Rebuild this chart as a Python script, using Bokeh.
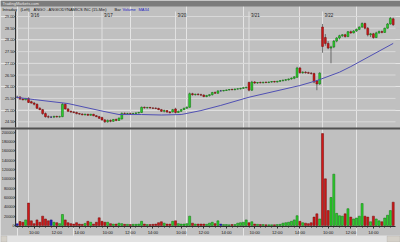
from bokeh.plotting import figure
from bokeh.models import (Range1d, LinearAxis, FixedTicker, NumeralTickFormatter,
                          BoxAnnotation, Label, ColumnDataSource)
from bokeh.embed import file_html
from bokeh.resources import INLINE

# ---------------- data (15-min bars, ANGO) ----------------
bar_open = [25.55, 25.56, 25.47, 25.44, 25.50, 25.36, 25.30, 25.25, 25.08, 25.02,
            24.85, 24.72, 24.70, 24.70, 24.73, 24.71, 24.72, 25.25, 25.05, 24.95,
            24.92, 24.90, 24.85, 24.83, 24.80, 24.82, 24.78, 24.82, 24.76, 24.72,
            24.68, 24.58, 24.50, 24.56, 24.52, 24.60, 24.56, 24.62, 24.86, 24.85,
            24.86, 24.85, 24.86, 24.88, 24.90, 25.12, 25.10, 25.11, 25.09, 25.08,
            25.07, 25.02, 24.95, 24.98, 24.92, 24.92, 25.05, 24.90, 24.95, 25.02,
            25.08, 25.12, 25.70, 25.66, 25.68, 25.66, 25.64, 25.58, 25.62, 25.66,
            25.75, 25.72, 25.82, 25.82, 25.84, 25.86, 25.88, 25.87, 25.90, 25.91,
            25.93, 25.96, 26.18, 25.85, 26.20, 26.16, 26.18, 26.17, 26.19, 26.18,
            26.20, 26.22, 26.20, 26.23, 26.26, 26.28, 26.30, 26.33, 26.36, 26.40,
            26.80, 26.60, 26.62, 26.60, 26.58, 26.56, 26.25, 26.12, 28.55, 28.10,
            27.85, 27.65, 27.70, 27.95, 28.08, 28.18, 28.22, 28.14, 28.35, 28.30,
            28.38, 28.45, 28.55, 28.70, 28.50, 28.22, 28.26, 28.10, 28.30, 28.36,
            28.32, 28.50, 28.68, 28.90]
bar_high = [25.62, 25.60, 25.52, 25.52, 25.55, 25.40, 25.35, 25.28, 25.12, 25.05,
            24.90, 24.78, 24.75, 24.76, 24.76, 24.76, 25.30, 25.28, 25.08, 24.98,
            24.96, 24.93, 24.88, 24.86, 24.85, 24.84, 24.84, 24.84, 24.79, 24.75,
            24.72, 24.62, 24.60, 24.60, 24.62, 24.64, 24.68, 24.90, 24.90, 24.88,
            24.89, 24.88, 24.90, 24.92, 25.15, 25.15, 25.14, 25.14, 25.12, 25.12,
            25.10, 25.05, 25.02, 25.00, 24.96, 25.05, 25.10, 24.98, 25.05, 25.10,
            25.16, 25.75, 25.74, 25.70, 25.72, 25.70, 25.68, 25.65, 25.68, 25.78,
            25.80, 25.85, 25.86, 25.86, 25.88, 25.90, 25.92, 25.92, 25.93, 25.95,
            25.98, 26.00, 26.22, 26.25, 26.24, 26.20, 26.22, 26.21, 26.22, 26.22,
            26.24, 26.25, 26.25, 26.28, 26.30, 26.32, 26.35, 26.40, 26.45, 26.85,
            26.85, 26.66, 26.66, 26.64, 26.62, 26.60, 26.28, 26.62, 28.68, 28.25,
            27.95, 27.75, 28.00, 28.12, 28.22, 28.25, 28.26, 28.38, 28.40, 28.42,
            28.48, 28.58, 28.75, 28.74, 28.55, 28.30, 28.30, 28.35, 28.40, 28.40,
            28.52, 28.72, 28.98, 28.95]
bar_low = [25.50, 25.44, 25.42, 25.42, 25.30, 25.28, 25.20, 25.05, 25.00, 24.80,
           24.68, 24.65, 24.66, 24.66, 24.68, 24.68, 24.70, 25.02, 24.92, 24.88,
           24.86, 24.82, 24.80, 24.78, 24.77, 24.76, 24.76, 24.74, 24.70, 24.62,
           24.55, 24.45, 24.46, 24.48, 24.50, 24.52, 24.54, 24.60, 24.82, 24.82,
           24.83, 24.82, 24.83, 24.85, 24.88, 25.06, 25.06, 25.07, 25.05, 25.04,
           25.00, 24.92, 24.90, 24.88, 24.86, 24.90, 24.85, 24.88, 24.92, 25.00,
           25.05, 25.10, 25.62, 25.62, 25.63, 25.60, 25.55, 25.55, 25.58, 25.62,
           25.70, 25.70, 25.80, 25.80, 25.82, 25.84, 25.85, 25.85, 25.87, 25.88,
           25.90, 25.92, 25.80, 25.82, 26.12, 26.12, 26.14, 26.14, 26.15, 26.15,
           26.17, 26.18, 26.18, 26.20, 26.22, 26.24, 26.26, 26.30, 26.32, 26.38,
           26.55, 26.55, 26.56, 26.55, 26.52, 26.15, 25.85, 26.08, 27.45, 27.75,
           27.60, 27.00, 27.65, 27.90, 28.02, 28.12, 28.10, 28.12, 28.26, 28.28,
           28.34, 28.42, 28.50, 28.45, 28.15, 28.12, 28.05, 28.08, 28.26, 28.28,
           28.30, 28.48, 28.65, 28.60]
bar_close = [25.55, 25.47, 25.44, 25.50, 25.33, 25.30, 25.25, 25.08, 25.02, 24.85,
             24.72, 24.70, 24.70, 24.73, 24.71, 24.72, 25.25, 25.05, 24.95, 24.92,
             24.90, 24.85, 24.83, 24.80, 24.82, 24.78, 24.82, 24.76, 24.72, 24.65,
             24.58, 24.50, 24.56, 24.52, 24.60, 24.56, 24.66, 24.86, 24.85, 24.86,
             24.85, 24.86, 24.88, 24.90, 25.12, 25.10, 25.11, 25.09, 25.08, 25.07,
             25.02, 24.95, 24.98, 24.92, 24.89, 25.02, 24.90, 24.95, 25.02, 25.08,
             25.12, 25.70, 25.66, 25.68, 25.66, 25.64, 25.58, 25.62, 25.66, 25.75,
             25.72, 25.82, 25.82, 25.84, 25.86, 25.88, 25.87, 25.90, 25.91, 25.93,
             25.96, 25.98, 25.85, 26.20, 26.16, 26.18, 26.17, 26.19, 26.18, 26.20,
             26.22, 26.20, 26.23, 26.26, 26.28, 26.30, 26.33, 26.36, 26.42, 26.80,
             26.60, 26.62, 26.60, 26.58, 26.56, 26.20, 26.12, 26.58, 27.72, 27.85,
             27.65, 27.70, 27.95, 28.08, 28.18, 28.22, 28.14, 28.35, 28.30, 28.38,
             28.45, 28.55, 28.70, 28.50, 28.22, 28.26, 28.10, 28.30, 28.36, 28.32,
             28.50, 28.68, 28.92, 28.65]
bar_volume = [3600, 8600, 7000, 12000, 48000, 10000, 4000, 12000, 7000, 20000,
              14000, 10000, 12000, 7000, 6000, 4000, 23600, 12000, 6000, 4000,
              3000, 6000, 3000, 2500, 4500, 9000, 7000, 3000, 7000, 16500,
              9000, 7000, 7000, 4000, 3000, 3000, 5000, 4000, 2500, 2500,
              2000, 2500, 2500, 3000, 9000, 3000, 2000, 2000, 2500, 3000,
              6000, 8000, 5000, 3000, 3000, 9000, 10000, 4000, 3000, 3000,
              4000, 20000, 5000, 3000, 3000, 3000, 3000, 2500, 5000, 7000,
              4000, 10000, 3000, 2000, 2000, 1500, 2000, 2000, 5000, 6000,
              7000, 12000, 6000, 8000, 3000, 2500, 2000, 2000, 1500, 1500,
              1500, 1500, 2000, 2500, 5000, 6000, 7000, 9000, 12000, 21000,
              9000, 6000, 5000, 4000, 6000, 18000, 25000, 14000, 197000, 100000,
              32000, 60000, 110000, 26000, 21000, 20000, 25000, 36000, 18000, 14000,
              16000, 20000, 47000, 20000, 18000, 8000, 20000, 14000, 10000, 8000,
              16000, 22000, 32000, 50000]

# 34-period moving average, read at a few bars
ma_bar = [0, 6, 18, 30, 36, 44, 51, 58, 65, 72, 82, 100, 106, 114, 118, 133]
ma_value = [25.54, 25.45, 25.28, 24.96, 24.81, 24.81, 24.79, 24.81, 24.98, 25.20,
            25.55, 26.05, 26.26, 26.62, 26.86, 27.85]

day_first_bar = [4, 30, 56, 82, 108]
day_labels = ["3/16", "3/17", "3/20", "3/21", "3/22"]
time_labels = ["10:00", "12:00", "14:00"]
time_bars_after_open = [2, 10, 18]
price_ticks = [24.5, 25.0, 25.5, 26.0, 26.5, 27.0, 27.5, 28.0, 28.5, 29.0]
volume_ticks = [0, 20000, 40000, 60000, 80000, 100000, 120000, 140000, 160000, 180000, 200000]

assert len(bar_open) == len(bar_high) == len(bar_low) == len(bar_close) == len(bar_volume)

# ---------------- geometry ----------------
W, H = 400, 242
X0, XS = 16.7, 2.827          # pixel x of bar 0, pixels per bar
PREF, PY0, PS = 29.0, 16.0, 23.4
VY0, VS = 225.0, 2143.6
AX_PX, RIGHT_PX = 15.0, 395.0
PTOP, PBOT, VTOP, VBOT = 11.0, 127.0, 129.0, 226.0


def bx(px):
    return (px - X0) / XS


def pp(yc):
    return PREF - (yc - PY0) / PS


def vv(yc):
    return (VY0 - yc) * VS


def sy(yc):
    return H - yc


BG = "#c0c0c0"
UP, DN, EQ = "#2ed12e", "#d01818", "#2020c8"
UP_E, DN_E, EQ_E = "#0b6e0b", "#6e0808", "#10106e"
FONT = "Liberation Sans"

p = figure(width=W, height=H, x_range=Range1d(bx(0), bx(W)), y_range=Range1d(pp(H), pp(0)),
           output_backend="svg", toolbar_location=None, min_border=0,
           x_axis_location=None, y_axis_location=None)
p.extra_y_ranges = {"vol": Range1d(vv(H), vv(0))}
p.background_fill_color = BG
p.border_fill_color = BG
p.outline_line_color = None

n = len(bar_open)
idx = list(range(n))
cols, edges = [], []
for o, c in zip(bar_open, bar_close):
    if c > o:
        cols.append(UP); edges.append(UP_E)
    elif c < o:
        cols.append(DN); edges.append(DN_E)
    else:
        cols.append(EQ); edges.append(EQ_E)
src = ColumnDataSource(dict(i=idx, o=bar_open, h=bar_high, l=bar_low, c=bar_close, v=bar_volume,
                            top=[max(a, b) for a, b in zip(bar_open, bar_close)],
                            bot=[min(a, b) for a, b in zip(bar_open, bar_close)],
                            col=cols, edge=edges))

# grid lines (price panel)
p.segment(x0=[bx(AX_PX)] * len(price_ticks), x1=[bx(RIGHT_PX)] * len(price_ticks),
          y0=price_ticks, y1=price_ticks, line_color="#d8d8d8", line_width=1)
# day separator lines
p.segment(x0=day_first_bar, x1=day_first_bar, y0=[pp(VBOT)] * len(day_first_bar),
          y1=[pp(PTOP)] * len(day_first_bar), line_color="#e0e0e0", line_width=1)

# volume bars
p.vbar(x="i", top="v", bottom=0, width=0.72, fill_color="col", line_color="edge",
       line_width=0.5, source=src, y_range_name="vol")
# candles
p.segment(x0="i", y0="l", x1="i", y1="h", line_color="#303030", line_width=0.6, source=src)
p.vbar(x="i", top="top", bottom="bot", width=0.66, fill_color="col", line_color="edge",
       line_width=0.5, source=src)
# moving average
p.line(ma_bar, ma_value, line_color="#5050b4", line_width=1)

# axes
pax = LinearAxis(fixed_location=bx(AX_PX), ticker=FixedTicker(ticks=price_ticks, minor_ticks=[]),
                 formatter=NumeralTickFormatter(format="0.00"), bounds=(pp(PBOT), pp(PTOP)))
vax = LinearAxis(fixed_location=bx(AX_PX), y_range_name="vol",
                 ticker=FixedTicker(ticks=volume_ticks, minor_ticks=[]),
                 formatter=NumeralTickFormatter(format="0"), bounds=(vv(VBOT), vv(VTOP)))
time_ticks, time_over = [], {}
for d in day_first_bar:
    for lab, off in zip(time_labels, time_bars_after_open):
        time_ticks.append(d + off)
        time_over[d + off] = lab
minor = [k for k in range(0, n, 2)]
tax = LinearAxis(fixed_location=pp(VBOT), ticker=FixedTicker(ticks=time_ticks, minor_ticks=minor),
                 major_label_overrides=time_over, bounds=(bx(AX_PX), bx(RIGHT_PX)))
for ax in (pax, vax, tax):
    ax.axis_line_color = "#303030"
    ax.axis_line_width = 1
    ax.major_tick_line_color = "#303030"
    ax.major_tick_out = 1
    ax.major_tick_in = 0
    ax.minor_tick_out = 1
    ax.minor_tick_in = 0
    ax.minor_tick_line_color = "#303030"
    ax.major_label_text_font_size = "3.8px"
    ax.major_label_text_font = FONT
    ax.major_label_text_color = "#202020"
    ax.major_label_standoff = 0
tax.major_tick_out = 2
tax.major_label_standoff = 1
tax.major_label_text_font_size = "4.2px"
p.add_layout(pax, "left")
p.add_layout(vax, "left")
p.add_layout(tax, "below")

# chrome: title bar, panel separator, scroll bar


def box(l, r, t, b, color, line=None):
    p.add_layout(BoxAnnotation(left=l, right=r, top=sy(t), bottom=sy(b), left_units="screen",
                               right_units="screen", top_units="screen", bottom_units="screen",
                               fill_color=color, fill_alpha=1, line_color=line, line_width=0.5))


box(0, W, 0, 6, "#7c7c7c")
box(0, W, PBOT, VTOP, "#505050")
box(0, W, 235, H, "#e2e2e2")
box(0.5, 6.5, 235.5, 241.5, "#d4d0c8", "#808080")
box(386.5, 399.5, 235.5, 241.5, "#d4d0c8", "#808080")


def lab(x, yc, text, color="#101010", size="4px", align="left"):
    p.add_layout(Label(x=x, y=sy(yc), x_units="screen", y_units="screen", text=text,
                       text_font=FONT, text_font_size=size, text_color=color,
                       text_baseline="middle", text_align=align))


lab(2, 3, "TradingMarkets.com", color="#e8e8e8")
lab(2, 8.5, "Intraday")
lab(20, 8.5, "(Left)")
lab(33, 8.5, "ANGO - ANGIODYNAMICS INC (15-Min)")
lab(114, 8.5, "Bar")
lab(122, 8.5, "Volume", color="#2020c0")
lab(138, 8.5, "MA34", color="#2020c0")

for d, t in zip(day_first_bar, day_labels):
    p.add_layout(Label(x=d, y=sy(12), x_units="data", y_units="screen", x_offset=2, text=t,
                       text_font=FONT, text_font_size="4.5px", text_color="#202020",
                       text_baseline="top"))

open("out.html", "w").write(file_html(p, INLINE))
